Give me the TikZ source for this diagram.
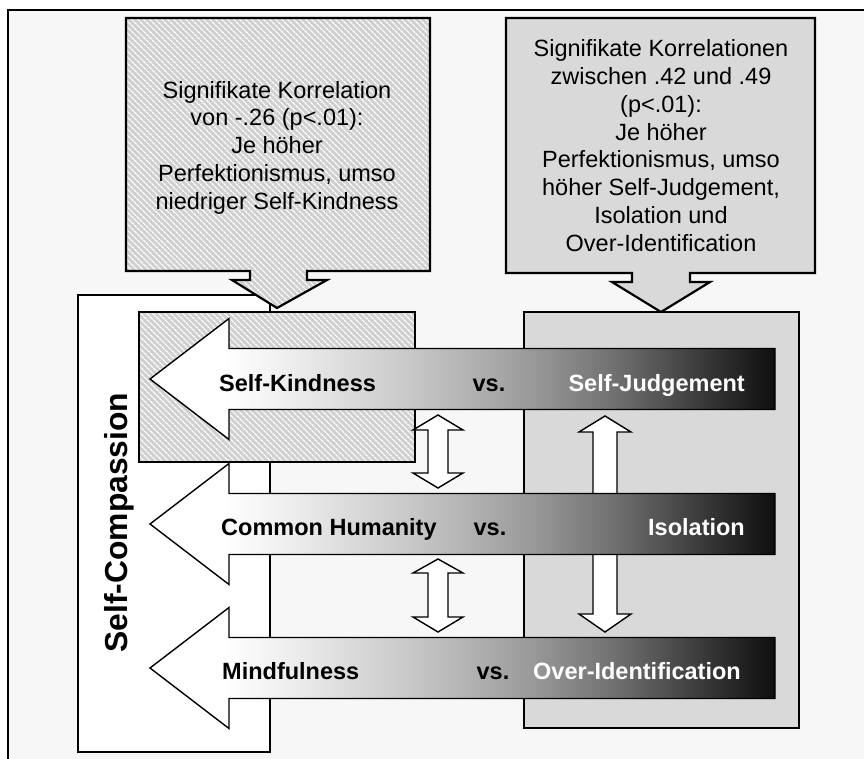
\documentclass[tikz,border=0pt]{standalone}
\usepackage{fontspec}
\setmainfont{Liberation Sans}
\usetikzlibrary{patterns.meta}

\definecolor{pagebg}{HTML}{F7F7F7}
\definecolor{boxgray}{HTML}{D9D9D9}
\definecolor{hatchgray}{HTML}{D0D0D0}

% white -> black ramp for the three dimension bars (25bp..75bp spans the bar)
\pgfdeclarehorizontalshading{barshade}{100bp}{%
  color(0bp)=(white); color(25bp)=(white); color(31bp)=(white);
  color(37bp)=(black!8); color(46bp)=(black!22); color(51bp)=(black!31);
  color(55.6bp)=(black!40); color(62.5bp)=(black!57); color(69bp)=(black!77);
  color(74.2bp)=(black!92); color(75bp)=(black!94); color(100bp)=(black!94)}

\tikzset{
  boxline/.style={draw=black, line width=2.2pt, line join=miter},
  hatched/.style={fill=hatchgray,
    postaction={pattern={Lines[angle=-45,distance=4pt,line width=1.3pt]}, pattern color=white},
    postaction={boxline}},
  graybox/.style={fill=boxgray, boxline},
  bararrow/.style={shading=barshade, draw=black, line width=1.4pt, line join=miter},
  dblarrow/.style={fill=white, draw=black, line width=1.4pt, line join=miter},
  boxtext/.style={inner sep=0pt, align=center, font=\fontsize{23.5}{27.75}\selectfont},
  bartext/.style={inner sep=0pt, font=\bfseries\fontsize{23.5}{28}\selectfont},
}

\begin{document}
\begin{tikzpicture}[x=1pt,y=-1pt]
  \useasboundingbox (0,0) rectangle (864,758);
  \clip (0,0) rectangle (864,758);

  % page and frame
  \fill[white] (0,0) rectangle (864,758);
  \fill[pagebg] (8,10) rectangle (880,780);
  \draw[line width=2.2pt] (880,10) -- (8,10) -- (8,780);

  % Self-Compassion frame
  \draw[fill=white, line width=2pt] (78,295) rectangle (270,752);

  % callout: Self-Kindness correlation
  \path[hatched] (126,18) -- (430,18) -- (430,271) -- (307,271) -- (307,280)
    -- (327,280) -- (277,308) -- (232,280) -- (250,280) -- (250,271)
    -- (126,271) -- cycle;

  % callout: negative components correlation
  \path[graybox] (506,18) -- (815,18) -- (815,273) -- (690,273) -- (690,282)
    -- (710,282) -- (661,312) -- (612,282) -- (632,282) -- (632,273)
    -- (506,273) -- cycle;

  % lower panels
  \path[hatched] (139,312) rectangle (415,462);
  \path[graybox] (524,312) rectangle (799,728);

  % long double arrow on the right
  \path[dblarrow] (605,416) -- (631,432) -- (617,432) -- (617,614) -- (631,614)
    -- (605,632) -- (579,614) -- (593,614) -- (593,432) -- (579,432) -- cycle;

  % short double arrows on the left
  \foreach \t/\a/\b/\e in {415/430/473/488, 559/573/617/632}{
    \path[dblarrow] (438,\t) -- (463,\a) -- (448,\a) -- (448,\b) -- (463,\b)
      -- (438,\e) -- (413,\b) -- (428,\b) -- (428,\a) -- (413,\a) -- cycle;
  }

  % three dimension bars
  \foreach \yc in {379,524,668}{
    \shadedraw[bararrow] (150,\yc) -- (229,\yc-60.5) -- (229,\yc-30.5)
      -- (775,\yc-30.5) -- (775,\yc+30.5) -- (229,\yc+30.5)
      -- (229,\yc+60.5) -- cycle;
  }

  % bar labels
  \node[bartext, anchor=base west] (sk) at (219,391) {Self-Kindness};
  \node[bartext, anchor=base] (vs1) at (489,391) {vs.};
  \node[bartext, anchor=base east, text=white] (sj) at (745,391) {Self-Judgement};

  \node[bartext, anchor=base west] (ch) at (221,535) {Common Humanity};
  \node[bartext, anchor=base] (vs2) at (490,535) {vs.};
  \node[bartext, anchor=base east, text=white] (is) at (745,535) {Isolation};

  \node[bartext, anchor=base west] (mf) at (222,679) {Mindfulness};
  \node[bartext, anchor=base] (vs3) at (493,679) {vs.};
  \node[bartext, anchor=base east, text=white] (oi) at (741,679) {Over-Identification};

  % vertical title
  \node[inner sep=0pt, rotate=90, anchor=base, font=\bfseries\fontsize{31.8}{36}\selectfont]
    (sc) at (127,522.5) {Self-Compassion};

  % callout texts
  \node[boxtext] (lt) at (277,147.5)
    {Signifikate Korrelation\\von -.26 (p<.01):\\Je höher\\Perfektionismus, umso\\niedriger Self-Kindness};
  \node[boxtext] (rt) at (661,145.5)
    {Signifikate Korrelationen\\zwischen .42 und .49\\(p<.01):\\Je höher\\Perfektionismus, umso\\höher Self-Judgement,\\Isolation und\\Over-Identification};
\end{tikzpicture}
\end{document}
